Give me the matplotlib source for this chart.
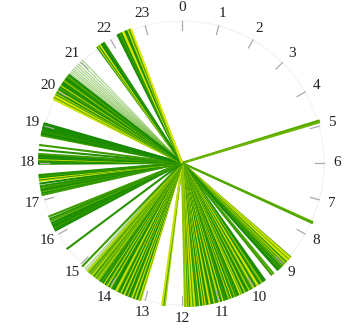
import numpy as np
import matplotlib.pyplot as plt
from matplotlib.colors import LinearSegmentedColormap

# ------------------------------------------------------------
# DATA: event time of day (hours), shade 0 = dark green .. 9 = yellow
# ------------------------------------------------------------
hours_05 = [4.85, 4.87, 4.90]
shade_05 = [4, 3, 4]

hours_08 = [7.62, 7.65]
shade_08 = [4, 3]

hours_09 = [8.73, 8.75, 8.78, 8.80, 8.82, 8.84, 8.87, 8.89, 8.91, 8.93, 8.95, 8.98,
            9.00, 9.02, 9.04, 9.06, 9.08, 9.10, 9.12, 9.14, 9.16, 9.17, 9.19, 9.21,
            9.36, 9.42]
shade_09 = [2, 8, 9, 7, 3, 8, 9, 6, 2, 1, 8, 4,
            0, 9, 3, 1, 5, 0, 2, 1, 0, 3, 1, 0,
            3, 2]

hours_10 = [9.65, 9.68, 9.70, 9.74, 9.77, 9.79, 9.83, 9.86, 9.88, 9.92,
            9.95, 9.97, 10.01, 10.04, 10.06, 10.10, 10.13, 10.15, 10.19, 10.22,
            10.25, 10.28, 10.31, 10.33, 10.37, 10.40, 10.42, 10.46, 10.49, 10.52,
            10.55, 10.58, 10.60, 10.64, 10.67, 10.70, 10.73, 10.76, 10.78, 10.82,
            10.85, 10.88, 10.91, 10.94, 10.96, 11.00, 11.03, 11.06, 11.09, 11.12,
            11.14, 11.18, 11.21, 11.24, 11.27, 11.30, 11.32, 11.36, 11.39, 11.42,
            11.45, 11.48, 11.50, 11.54, 11.57, 11.60, 11.63, 11.66, 11.68, 11.72,
            11.75, 11.78, 11.81, 11.84, 11.86, 11.90, 11.92]
shade_10 = [0, 1, 0, 2, 8, 3, 0, 1, 9, 7,
            2, 0, 8, 9, 3, 1, 0, 6, 2, 0,
            1, 8, 3, 0, 7, 2, 9, 1, 0, 3,
            0, 7, 2, 0, 9, 0, 4, 8, 0, 1,
            2, 0, 9, 3, 0, 8, 6, 0, 2, 0,
            8, 1, 0, 3, 9, 7, 0, 2, 9, 0,
            8, 2, 0, 9, 1, 3, 0, 7, 8, 2,
            9, 6, 1, 8, 3, 9, 5]

hours_12 = [12.46, 12.50, 12.53]
shade_12 = [6, 2, 8]

hours_13 = [13.12, 13.15, 13.17, 13.21, 13.24, 13.27, 13.31, 13.33, 13.36, 13.40,
            13.42, 13.45, 13.49, 13.51, 13.54, 13.58, 13.60, 13.63, 13.67, 13.69,
            13.72, 13.76, 13.78, 13.81, 13.85, 13.87, 13.90, 13.94, 13.96, 13.99,
            14.03, 14.05, 14.09, 14.12, 14.16, 14.20, 14.23, 14.28, 14.32, 14.35,
            14.40, 14.44, 14.48, 14.53, 14.58, 14.62, 14.68, 14.73, 14.93, 15.55]
shade_13 = [8, 2, 9, 0, 1, 7, 3, 0, 9, 2,
            1, 0, 8, 3, 0, 9, 6, 0, 2, 9,
            1, 0, 3, 8, 8, 2, 0, 1, 0, 7,
            2, 0, 9, 3, 0, 8, 1, 2, 0, 4,
            6, 3, 5, 2, 7, 4, 3, 6, 2, 1]

hours_16 = [16.13, 16.16, 16.19, 16.22, 16.26, 16.30, 16.35, 16.41, 16.47, 16.54]
shade_16 = [0, 1, 0, 2, 0, 1, 0, 3, 1, 2]

hours_17 = [17.14, 17.19, 17.24, 17.28, 17.33, 17.38, 17.45, 17.52, 17.56, 17.59,
            17.62, 17.65, 17.68]
shade_17 = [2, 1, 3, 0, 2, 1, 0, 8, 1, 9, 0, 2, 1]

hours_18 = [17.98, 18.01, 18.04, 18.07, 18.10, 18.13, 18.16, 18.20, 18.24, 18.35, 18.48]
shade_18 = [1, 0, 2, 0, 8, 0, 1, 0, 2, 1, 2]

hours_19 = [18.74, 18.77, 18.80, 18.83, 18.86, 18.89, 18.92, 18.95, 18.98, 19.01,
            19.04, 19.07]
shade_19 = [3, 1, 0, 0, 2, 0, 1, 0, 0, 1, 0, 0]

hours_20 = [19.76, 19.79, 19.82, 19.85, 19.88, 19.91, 19.94, 19.97, 20.00, 20.03,
            20.06, 20.09, 20.12, 20.15, 20.18, 20.21, 20.24, 20.27, 20.30, 20.33,
            20.36, 20.40, 20.44, 20.48, 20.53]
shade_20 = [8, 9, 3, 8, 9, 1, 7, 0, 2, 9,
            0, 1, 3, 0, 8, 2, 0, 1, 0, 6,
            2, 0, 1, 3, 0]

hours_22 = [21.59, 21.62, 21.65, 21.69, 21.73, 21.77, 21.80]
shade_22 = [0, 8, 2, 9, 0, 0, 1]

hours_23 = [22.22, 22.25, 22.28, 22.31, 22.34, 22.38, 22.41, 22.45, 22.49, 22.53,
            22.57, 22.61]
shade_23 = [0, 1, 0, 3, 0, 8, 9, 1, 0, 8, 2, 9]

# single pale events
faint_hours = [14.78, 14.83, 16.20, 16.28, 16.44, 20.58, 20.63, 20.68, 20.73,
               20.79, 20.85, 20.91, 20.98, 21.06]

hours = (hours_05 + hours_08 + hours_09 + hours_10 + hours_12 + hours_13 + hours_16
         + hours_17 + hours_18 + hours_19 + hours_20 + hours_22 + hours_23)
shades = (shade_05 + shade_08 + shade_09 + shade_10 + shade_12 + shade_13 + shade_16
          + shade_17 + shade_18 + shade_19 + shade_20 + shade_22 + shade_23)

hour_labels = [str(h) for h in range(24)]

# ------------------------------------------------------------
# PLOT
# ------------------------------------------------------------
cmap = LinearSegmentedColormap.from_list(
    "greenyellow", ["#168a00", "#4ea600", "#a6d200", "#dce800"])

W, H = 347, 329
cx, cy = 182, 163
rmax = 165
R = 144

fig = plt.figure(figsize=(W / 100, H / 100), dpi=100)
ax = fig.add_axes([(cx - rmax) / W, (H - cy - rmax) / H, 2 * rmax / W, 2 * rmax / H],
                  projection="polar")
ax.set_theta_zero_location("N")
ax.set_theta_direction(-1)
ax.set_ylim(0, rmax)
ax.axis("off")

def to_theta(h):
    return h / 24 * 2 * np.pi

# faint outer ring
ring = np.linspace(0, 2 * np.pi, 400)
ax.plot(ring, np.full_like(ring, 142), color="#f2f2f2", lw=0.8, zorder=1)

for h in faint_hours:
    t = to_theta(h)
    ax.plot([t, t], [0, R], color=cmap(0.3), lw=0.8, alpha=0.5,
            solid_capstyle="butt", zorder=2)

for h, s in zip(hours, shades):
    t = to_theta(h)
    ax.plot([t, t], [0, R], color=cmap(s / 9), lw=1.5,
            solid_capstyle="butt", zorder=3)

# hour ticks and labels
for i, lab in enumerate(hour_labels):
    t = to_theta(i)
    ax.plot([t, t], [133, 142], color="#aaaaaa", lw=0.9, zorder=4)
    ax.text(t, 155, lab, ha="center", va="center", fontsize=11,
            family="Liberation Serif", color="#222222")

fig.savefig("out.png", dpi=100)
